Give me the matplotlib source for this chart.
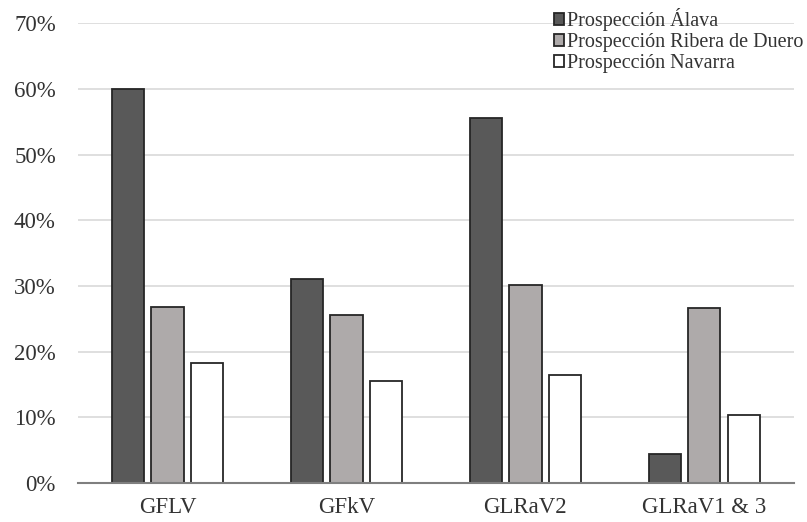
import numpy as np
import matplotlib
matplotlib.use("Agg")
import matplotlib.pyplot as plt
from matplotlib.ticker import PercentFormatter

plt.rcParams['font.family'] = ['Liberation Serif', 'DejaVu Serif']

# data
categories = ["GFLV", "GFkV", "GLRaV2", "GLRaV1 & 3"]
alava = [0.600, 0.311, 0.556, 0.044]
ribera = [0.268, 0.255, 0.301, 0.267]
navarra = [0.183, 0.156, 0.164, 0.104]
series_names = ["Prospección Álava", "Prospección Ribera de Duero", "Prospección Navarra"]
colors = ["#595959", "#aeaaaa", "#ffffff"]

fig = plt.figure(figsize=(8.07, 5.22), dpi=100)
ax = fig.add_axes([0.0967, 0.0747, 0.887, 0.881])

x = np.arange(len(categories))
w = 0.18
step = 0.22
for i, (vals, name, c) in enumerate(zip([alava, ribera, navarra], series_names, colors)):
    ax.bar(x + (i - 1) * step, vals, w, color=c, edgecolor="#262626",
           linewidth=1.3, label=name, zorder=3)

ax.set_xlim(-0.5, 3.5)
ax.set_ylim(0, 0.70)
ax.set_yticks(np.arange(0, 0.71, 0.10))
ax.yaxis.set_major_formatter(PercentFormatter(1.0, decimals=0))
ax.set_xticks(x)
ax.set_xticklabels(categories)
ax.grid(axis="y", color="#d9d9d9", linewidth=1.2, zorder=0)
for s in ["top", "right", "left"]:
    ax.spines[s].set_visible(False)
ax.spines["bottom"].set_color("#7f7f7f")
ax.spines["bottom"].set_linewidth(1.5)
ax.spines["bottom"].set_zorder(4)
ax.tick_params(axis="both", length=0, labelsize=16.5, colors="#333333")
ax.tick_params(axis="y", pad=16)
ax.tick_params(axis="x", pad=10)

leg = ax.legend(loc="upper right", bbox_to_anchor=(1.025, 1.05), frameon=False,
                fontsize=14.5, handlelength=0.5, handleheight=0.5,
                handletextpad=0.15, labelspacing=0.1, borderaxespad=0)
for t in leg.get_texts():
    t.set_color("#333333")

fig.savefig("out.png", dpi=100)
